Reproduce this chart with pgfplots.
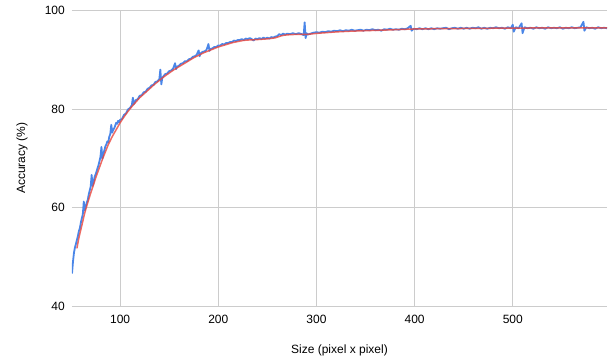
\documentclass[border=0pt]{standalone}
\usepackage{pgfplots}
\pgfplotsset{compat=1.18}
\usepackage{fontspec}
\setmainfont{Liberation Sans}
\definecolor{gblue}{HTML}{4A86E8}
\definecolor{gred}{HTML}{E8453C}
\definecolor{gridc}{HTML}{CCCCCC}
\begin{document}
\begin{tikzpicture}
\path (-72pt,-56pt) rectangle (541pt,306pt);
\begin{axis}[
  at={(0,0)}, anchor=south west,
  scale only axis, width=535pt, height=295.5pt,
  xmin=51, xmax=596, ymin=40, ymax=100,
  xtick={100,200,300,400,500}, ytick={40,60,80,100},
  grid=major, major grid style={draw=gridc, line width=0.8pt},
  axis line style={draw=none}, major tick length=0pt,
  /pgf/number format/assume math mode=true,
  ticklabel style={font=\fontsize{12}{14}\selectfont},
  yticklabel style={anchor=east, inner sep=0pt, xshift=-7pt},
  xticklabel style={anchor=north, inner sep=0pt, yshift=-9pt},
  xlabel={Size (pixel x pixel)}, ylabel={Accuracy (\%)},
  label style={font=\fontsize{12}{14}\selectfont},
  xlabel style={at={(axis description cs:0.5,-0.1489)}, anchor=center},
  ylabel style={at={(axis description cs:-0.0935,0.5)}, anchor=center},
  clip=true,
]
\addplot[gblue, line width=1.8pt, line join=round] coordinates {
(51,46.6) (52,49.0) (53,50.8) (54,51.9) (55,52.6) (56,53.4) (57,54.2) (58,55.2) (59,55.8) (60,56.9)
(61,57.8) (62,58.6) (63,61.2) (64,59.4) (65,60.2) (66,61.0) (67,61.5) (68,62.6) (69,63.4) (70,64.2)
(71,66.6) (72,64.4) (73,65.1) (74,66.2) (75,66.7) (76,67.3) (77,68.0) (78,68.6) (79,69.4) (80,70.3)
(81,72.3) (82,69.9) (83,71.0) (84,71.6) (85,72.4) (86,72.8) (87,73.4) (88,73.3) (89,74.4) (90,74.9)
(91,76.8) (92,75.2) (93,75.8) (94,76.1) (95,76.6) (96,77.2) (97,77.0) (98,77.6) (99,77.3) (100,77.8)
(102,78.0) (104,78.8) (106,79.1) (108,79.9) (110,80.2) (112,80.8) (113,82.3) (114,81.0) (116,81.8) (118,82.0)
(120,82.7) (122,82.8) (124,83.4) (126,83.5) (128,84.1) (130,84.3) (132,84.8) (134,84.9) (136,85.5) (138,85.6)
(140,86.1) (141,88.0) (142,85.0) (143,86.4) (144,86.6) (146,87.1) (148,87.2) (150,87.7) (152,87.8) (154,88.2)
(156,89.3) (157,88.1) (158,88.6) (160,88.8) (162,89.2) (164,89.3) (166,89.7) (168,89.7) (170,90.1) (172,90.2)
(174,90.6) (176,90.7) (178,91.0) (180,91.9) (181,90.7) (182,91.3) (184,91.6) (186,91.7) (188,92.0) (190,93.2)
(191,91.8) (192,92.2) (194,92.3) (196,92.6) (198,92.6) (200,92.9) (202,92.9) (204,93.2) (206,93.1) (208,93.4)
(210,93.4) (212,93.6) (214,93.6) (216,93.9) (218,93.8) (220,94.0) (222,94.0) (224,94.2) (226,94.0) (228,94.3)
(230,94.2) (232,94.4) (234,94.2) (236,93.9) (238,94.3) (240,94.2) (242,94.4) (244,94.2) (246,94.5) (248,94.3)
(250,94.5) (252,94.3) (254,94.6) (256,94.5) (258,94.7) (260,94.8) (262,95.2) (264,95.0) (266,95.3) (268,95.1)
(270,95.3) (273,95.2) (276,95.4) (279,95.2) (282,95.4) (285,95.2) (287,95.0) (288,97.6) (289,94.4) (290,95.4)
(291,95.1) (294,95.3) (297,95.5) (300,95.6) (303,95.5) (306,95.7) (309,95.6) (312,95.8) (315,95.7) (318,95.9)
(321,95.8) (324,96.0) (327,95.8) (330,96.0) (333,95.9) (336,96.1) (339,95.9) (342,96.0) (345,96.1) (348,95.9)
(351,96.1) (354,96.0) (357,96.2) (360,96.0) (363,96.1) (366,95.9) (369,96.2) (372,96.1) (375,96.3) (378,96.1)
(381,96.2) (384,96.1) (387,96.3) (390,96.2) (393,96.4) (396,96.9) (397,95.9) (399,96.3) (402,96.2) (405,96.4)
(408,96.2) (411,96.4) (414,96.2) (417,96.4) (420,96.2) (423,96.4) (426,96.3) (429,96.4) (432,96.5) (435,96.2)
(438,96.4) (441,96.5) (444,96.3) (447,96.5) (450,96.3) (453,96.5) (456,96.3) (459,96.5) (462,96.4) (465,96.6)
(468,96.3) (471,96.5) (474,96.3) (477,96.5) (480,96.4) (483,96.6) (486,96.4) (489,96.5) (492,96.3) (495,96.6)
(498,96.4) (500,97.1) (501,95.7) (503,96.6) (506,96.4) (509,97.4) (510,95.4) (512,96.6) (515,96.4) (518,96.5)
(521,96.3) (524,96.6) (527,96.4) (530,96.5) (533,96.3) (536,96.6) (539,96.4) (542,96.5) (545,96.4) (548,96.6)
(551,96.3) (554,96.5) (557,96.4) (560,96.6) (563,96.4) (566,96.5) (569,96.6) (572,97.7) (573,95.9) (575,96.6)
(578,96.4) (581,96.5) (584,96.3) (587,96.6) (590,96.4) (593,96.5) (596,96.4)
};
\addplot[gred, opacity=0.8, line width=1.5pt, smooth] coordinates {
(56,51.7) (58,53.8) (60,55.5) (62,57.2) (64,58.9) (66,60.3) (68,61.6) (70,62.9) (72,64.1) (74,65.3)
(76,66.5) (78,67.6) (80,68.7) (82,69.8) (84,70.8) (86,71.8) (88,72.8) (90,73.6) (92,74.4) (94,75.1)
(96,75.8) (98,76.5) (100,77.2) (104,78.4) (108,79.5) (112,80.5) (116,81.4) (120,82.3) (125,83.2) (130,84.1)
(135,85.0) (140,85.8) (145,86.6) (150,87.3) (155,88.0) (160,88.6) (165,89.2) (170,89.8) (175,90.4) (180,90.9)
(185,91.4) (190,91.8) (195,92.2) (200,92.6) (205,92.9) (210,93.2) (215,93.5) (220,93.7) (225,93.9) (230,94.0)
(240,94.1) (250,94.25) (258,94.45) (264,94.85) (270,95.05) (280,95.15) (290,95.15) (300,95.35) (310,95.5) (320,95.65)
(335,95.8) (350,95.9) (365,96.0) (380,96.1) (400,96.25) (420,96.3) (450,96.35) (480,96.4) (520,96.45) (560,96.45)
(596,96.45)
};
\end{axis}
\end{tikzpicture}
\end{document}
